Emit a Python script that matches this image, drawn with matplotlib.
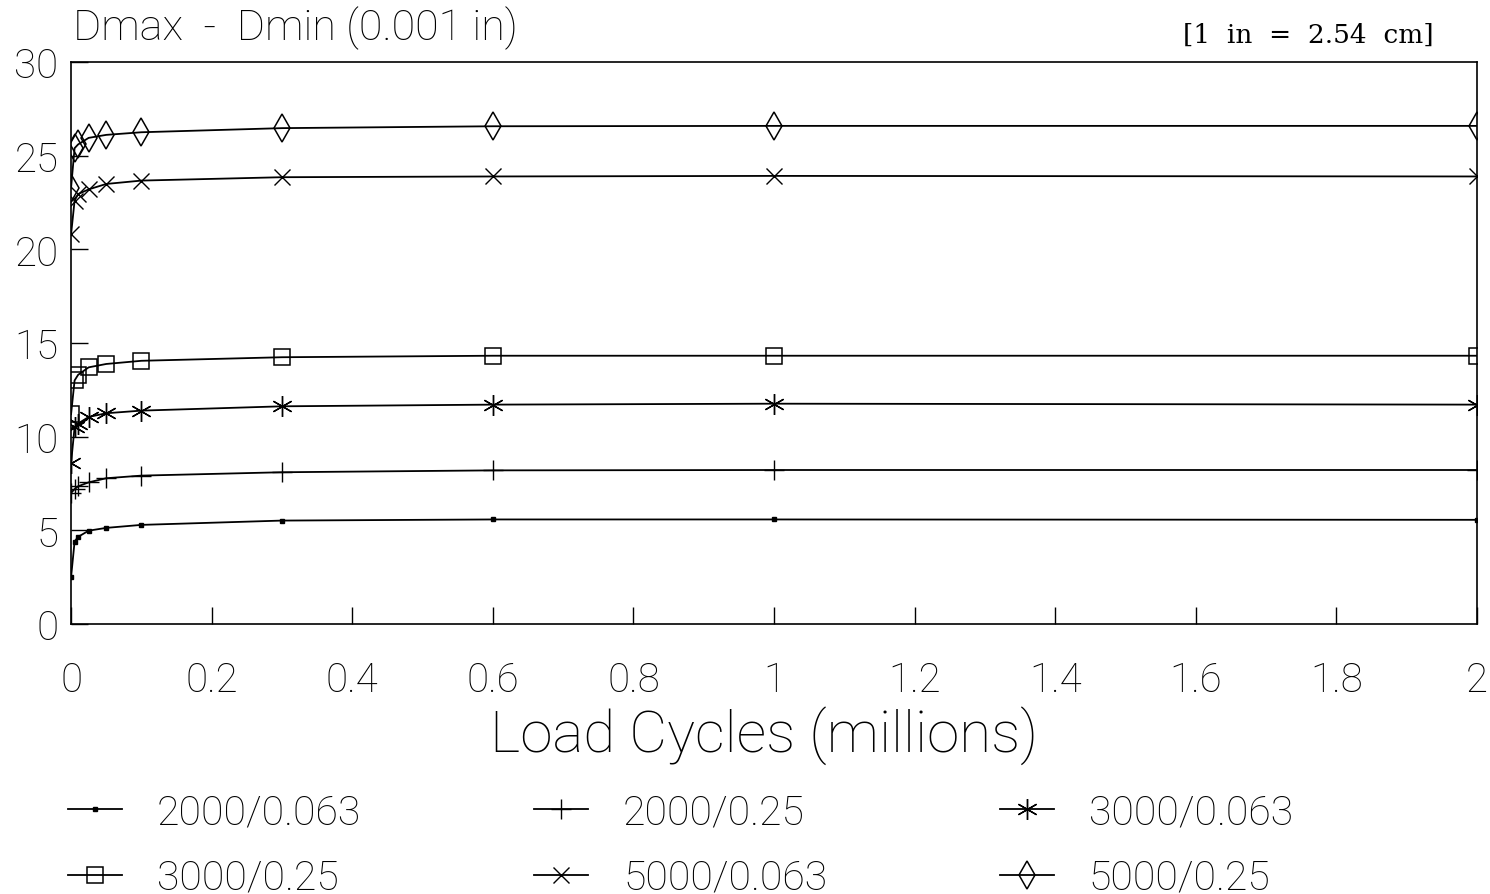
import matplotlib
matplotlib.use("Agg")
import matplotlib.pyplot as plt

# Data
cycles = [0.0, 0.005, 0.01, 0.025, 0.05, 0.1, 0.3, 0.6, 1.0, 2.0]
s_2000_063 = [2.5, 4.4, 4.65, 4.98, 5.13, 5.29, 5.52, 5.58, 5.58, 5.56]
s_2000_25 = [7.0, 7.2, 7.35, 7.56, 7.78, 7.92, 8.10, 8.20, 8.22, 8.22]
s_3000_063 = [8.6, 10.5, 10.7, 11.05, 11.25, 11.39, 11.62, 11.71, 11.76, 11.71]
s_3000_25 = [11.2, 13.0, 13.3, 13.7, 13.88, 14.05, 14.24, 14.32, 14.32, 14.32]
s_5000_063 = [20.8, 22.6, 22.95, 23.2, 23.49, 23.67, 23.85, 23.89, 23.92, 23.89]
s_5000_25 = [23.3, 25.4, 25.6, 25.95, 26.11, 26.25, 26.47, 26.57, 26.59, 26.59]
labels = ["2000/0.063", "2000/0.25", "3000/0.063", "3000/0.25", "5000/0.063", "5000/0.25"]
xticks = [0, 0.2, 0.4, 0.6, 0.8, 1.0, 1.2, 1.4, 1.6, 1.8, 2.0]
xticklabels = ["0", "0.2", "0.4", "0.6", "0.8", "1", "1.2", "1.4", "1.6", "1.8", "2"]
yticks = [0, 5, 10, 15, 20, 25, 30]

plt.rcParams["font.family"] = ["Roboto", "DejaVu Sans"]
plt.rcParams["font.weight"] = "light"

fig = plt.figure(figsize=(14.9, 8.95), dpi=100)
ax = fig.add_axes([0.0477, 0.3017, 0.9436, 0.6279])

series = [s_2000_063, s_2000_25, s_3000_063, s_3000_25, s_5000_063, s_5000_25]
styles = [
    dict(marker="s", ms=3.5, mfc="black", mec="black"),
    dict(marker="+", ms=14, mew=1.0),
    dict(marker=(6, 2, 0), ms=15, mew=1.0),
    dict(marker="s", ms=11, mfc="none", mew=1.1),
    dict(marker="x", ms=11, mew=1.0),
    dict(marker="d", ms=14, mfc="none", mew=1.1),
]
handles = []
for ys, st, lab in zip(series, styles, labels):
    h, = ax.plot(cycles, ys, color="black", lw=1.3, label=lab, **st)
    handles.append(h)

ax.set_xlim(0, 2)
ax.set_ylim(0, 30)
ax.set_xticks(xticks)
ax.set_xticklabels(xticklabels)
ax.set_yticks(yticks)
ax.tick_params(axis="both", direction="in", length=12, width=1.0, labelsize=29,
               colors="black")
ax.tick_params(axis="x", pad=26)
ax.tick_params(axis="y", pad=9)
for sp in ax.spines.values():
    sp.set_linewidth(1.2)

fig.text(0.049, 0.969, "Dmax  -  Dmin (0.001 in)", fontsize=31, ha="left", va="center")
fig.text(0.962, 0.961, "[1  in  =  2.54  cm]", fontsize=19, ha="right", va="center",
         family="DejaVu Serif", weight="normal")
fig.text(0.513, 0.178, "Load Cycles (millions)", fontsize=42, ha="center", va="center")

order = [0, 3, 1, 4, 2, 5]
leg = fig.legend([handles[i] for i in order], [labels[i] for i in order], ncol=3,
                 loc="upper left", bbox_to_anchor=(0.0456, 0.113), frameon=False,
                 borderpad=0, borderaxespad=0,
                 fontsize=29.5, handlelength=1.32, handletextpad=0.85, columnspacing=4.22,
                 labelspacing=0.66)

fig.savefig("out.png", dpi=100, facecolor="white")
